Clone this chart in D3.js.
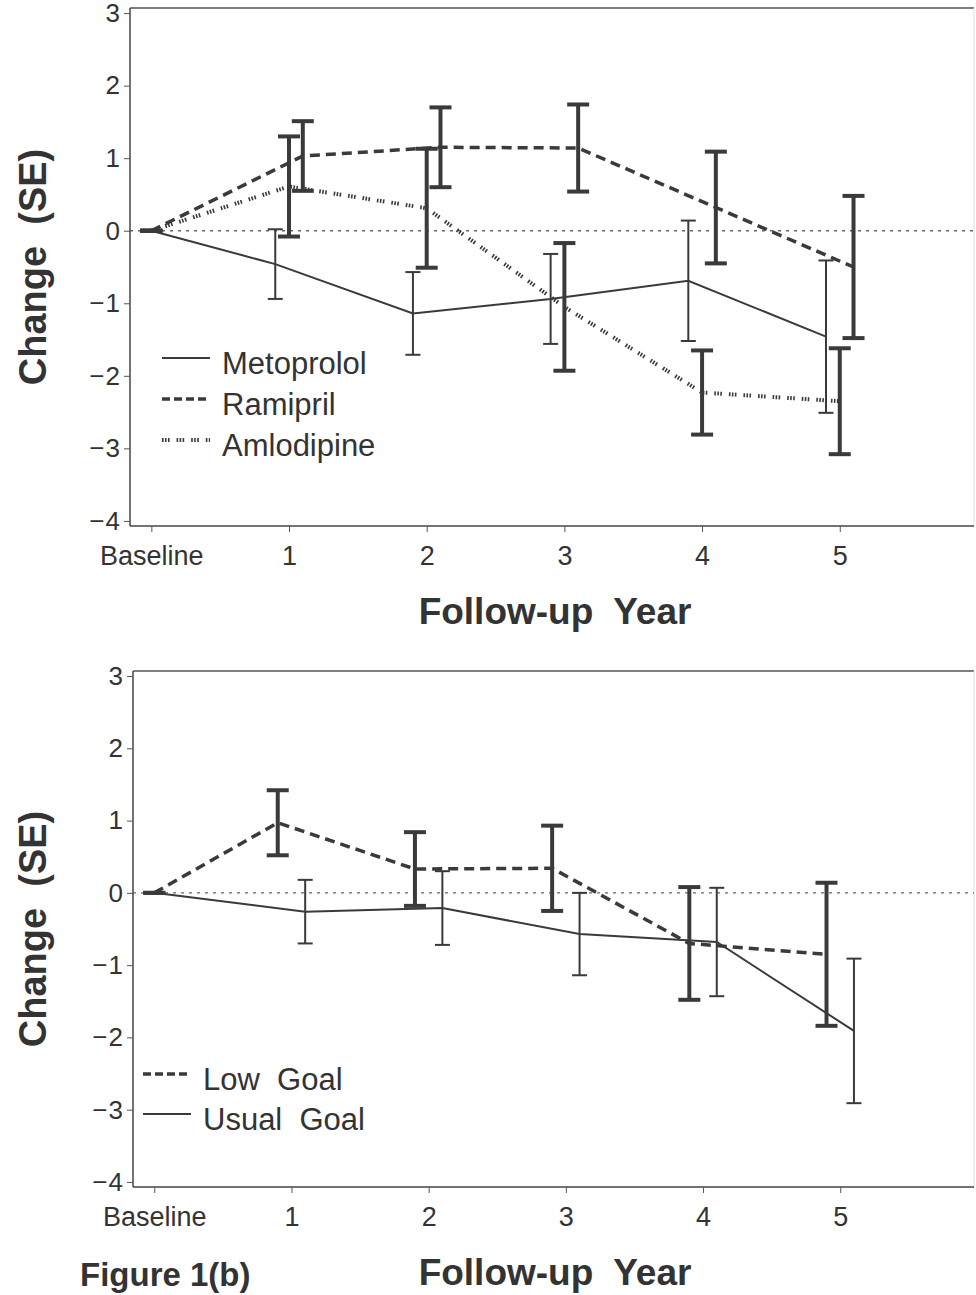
<!DOCTYPE html>
<html>
<head>
<meta charset="utf-8">
<script src="https://cdn.jsdelivr.net/npm/d3@7"></script>
<style>
  body { margin: 0; background: #fff; }
  text { font-family: "Liberation Sans", Arial, Helvetica, sans-serif; fill: #333; white-space: pre; }
</style>
</head>
<body>
<div id="chart"></div>
<script>
// x categories and tick labels
const years = [0, 1, 2, 3, 4, 5];
const yearLabels = ["Baseline", "1", "2", "3", "4", "5"];
const yTicks = [-4, -3, -2, -1, 0, 1, 2, 3];

// Panel (a): drug groups, mean change and SE
const metoprololMean = [0, -0.46, -1.14, -0.94, -0.69, -1.46];
const metoprololSE   = [0, 0.48, 0.57, 0.62, 0.83, 1.05];
const ramiprilMean   = [0, 1.03, 1.15, 1.14, 0.32, -0.50];
const ramiprilSE     = [0, 0.48, 0.55, 0.60, 0.77, 0.98];
const amlodipineMean = [0, 0.61, 0.31, -1.05, -2.23, -2.35];
const amlodipineSE   = [0, 0.69, 0.82, 0.88, 0.58, 0.73];

// Panel (b): BP goal groups
const lowGoalMean   = [0, 0.97, 0.33, 0.34, -0.70, -0.85];
const lowGoalSE     = [0, 0.45, 0.51, 0.59, 0.78, 0.99];
const usualGoalMean = [0, -0.26, -0.21, -0.57, -0.68, -1.91];
const usualGoalSE   = [0, 0.44, 0.51, 0.57, 0.75, 1.00];

const ink = '#3a3a3a';

// line styles
const styles = {
  solid:  { width: 2,   dash: null, errW: 2, cap: 15 },
  dashed: { width: 3.5, dash: '10,6', errW: 4, cap: 22 },
  dotted: { width: 4,   dash: '1.6,1.4,1.6,1.4,1.6,7', errW: 4, cap: 22 }
};

const svg = d3.select('#chart')
  .append('svg')
  .attr('width', 976)
  .attr('height', 1295);

function drawPanel(p) {
  const width = p.right - p.left;
  const height = p.bottom - p.top;
  const g = svg.append('g').attr('transform', `translate(${p.left},${p.top})`);

  const x = d3.scaleLinear().domain([-0.155, 5.975]).range([0, width]);
  const y = d3.scaleLinear().domain([-4.07, 3.07]).range([height, 0]);

  // frame
  g.append('line').attr('x1', 0).attr('x2', width).attr('y1', 0).attr('y2', 0)
    .attr('stroke', '#555').attr('stroke-width', 1.5);
  g.append('line').attr('x1', width).attr('x2', width).attr('y1', 0).attr('y2', height)
    .attr('stroke', '#ddd').attr('stroke-width', 1);

  // zero reference line
  g.append('line')
    .attr('x1', 0).attr('x2', width)
    .attr('y1', y(0)).attr('y2', y(0))
    .attr('stroke', '#666').attr('stroke-width', 1.3)
    .attr('stroke-dasharray', '3,5');

  // axes
  const yAxis = g.append('g')
    .call(d3.axisLeft(y).tickValues(yTicks).tickSize(6).tickPadding(3).tickFormat(d3.format('d')));
  yAxis.select('.domain').attr('stroke', '#444').attr('stroke-width', 1.5)
    .attr('d', `M0,0V${height}`);
  yAxis.selectAll('.tick line').attr('stroke', '#555');
  yAxis.selectAll('.tick text').attr('font-size', 26).attr('letter-spacing', 1).style('fill', '#333');

  const xAxis = g.append('g')
    .attr('transform', `translate(0,${height})`)
    .call(d3.axisBottom(x).tickValues(years).tickSize(6).tickPadding(14)
      .tickFormat((d, i) => yearLabels[i]));
  xAxis.select('.domain').attr('stroke', '#444').attr('stroke-width', 1.5)
    .attr('d', `M0,0H${width}`);
  xAxis.selectAll('.tick line').attr('stroke', '#555');
  xAxis.selectAll('.tick text').attr('font-size', 27).style('fill', '#333');

  // series
  p.series.forEach(s => {
    const st = styles[s.style];
    const pts = years.map((yr, i) => ({
      x: yr === 0 ? yr : yr + s.offset,
      m: s.mean[i],
      se: s.se[i]
    }));

    const line = d3.line().x(d => x(d.x)).y(d => y(d.m));
    g.append('path')
      .datum(pts)
      .attr('d', line)
      .attr('fill', 'none')
      .attr('stroke', ink)
      .attr('stroke-width', st.width)
      .attr('stroke-dasharray', st.dash);

    const eb = g.append('g').attr('stroke', ink).attr('stroke-width', st.errW);
    eb.selectAll('.bar').data(pts).enter().append('line')
      .attr('x1', d => x(d.x)).attr('x2', d => x(d.x))
      .attr('y1', d => y(d.m - d.se)).attr('y2', d => y(d.m + d.se));
    eb.selectAll('.capTop').data(pts).enter().append('line')
      .attr('x1', d => x(d.x) - st.cap / 2).attr('x2', d => x(d.x) + st.cap / 2)
      .attr('y1', d => y(d.m + d.se)).attr('y2', d => y(d.m + d.se));
    eb.selectAll('.capBot').data(pts).enter().append('line')
      .attr('x1', d => x(d.x) - st.cap / 2).attr('x2', d => x(d.x) + st.cap / 2)
      .attr('y1', d => y(d.m - d.se)).attr('y2', d => y(d.m - d.se));
  });

  // legend
  p.legend.forEach((l, i) => {
    const st = styles[l.style];
    const ly = p.legendY + i * p.legendGap;
    g.append('line')
      .attr('x1', p.legendX).attr('x2', p.legendX + 48)
      .attr('y1', ly).attr('y2', ly)
      .attr('stroke', ink)
      .attr('stroke-width', l.style === 'solid' ? 2 : st.width)
      .attr('stroke-dasharray', l.style === 'dashed' ? '8,4' : st.dash);
    g.append('text')
      .attr('x', p.legendX + 60)
      .attr('y', ly + 16)
      .attr('font-size', 31)
      .text(l.name);
  });

  // axis titles
  svg.append('text')
    .attr('transform', `translate(33,${p.top + height / 2}) rotate(-90)`)
    .attr('text-anchor', 'middle')
    .attr('dominant-baseline', 'central')
    .attr('font-size', 38)
    .attr('font-weight', 'bold')
    .text('Change  (SE)');

  svg.append('text')
    .attr('x', 555)
    .attr('y', p.xTitleY)
    .attr('text-anchor', 'middle')
    .attr('font-size', 37)
    .attr('font-weight', 'bold')
    .text('Follow-up  Year');
}

drawPanel({
  left: 130, right: 974, top: 8, bottom: 526, xTitleY: 624,
  legendX: 32, legendY: 350, legendGap: 41,
  series: [
    { mean: metoprololMean, se: metoprololSE, offset: -0.1, style: 'solid' },
    { mean: amlodipineMean, se: amlodipineSE, offset: 0, style: 'dotted' },
    { mean: ramiprilMean, se: ramiprilSE, offset: 0.1, style: 'dashed' }
  ],
  legend: [
    { name: 'Metoprolol', style: 'solid' },
    { name: 'Ramipril', style: 'dashed' },
    { name: 'Amlodipine', style: 'dotted' }
  ]
});

drawPanel({
  left: 133, right: 974, top: 671, bottom: 1187, xTitleY: 1285,
  legendX: 10, legendY: 403, legendGap: 40,
  series: [
    { mean: usualGoalMean, se: usualGoalSE, offset: 0.1, style: 'solid' },
    { mean: lowGoalMean, se: lowGoalSE, offset: -0.1, style: 'dashed' }
  ],
  legend: [
    { name: 'Low  Goal', style: 'dashed' },
    { name: 'Usual  Goal', style: 'solid' }
  ]
});

svg.append('text')
  .attr('x', 80)
  .attr('y', 1286)
  .attr('font-size', 33)
  .attr('font-weight', 'bold')
  .text('Figure 1(b)');
</script>
</body>
</html>
